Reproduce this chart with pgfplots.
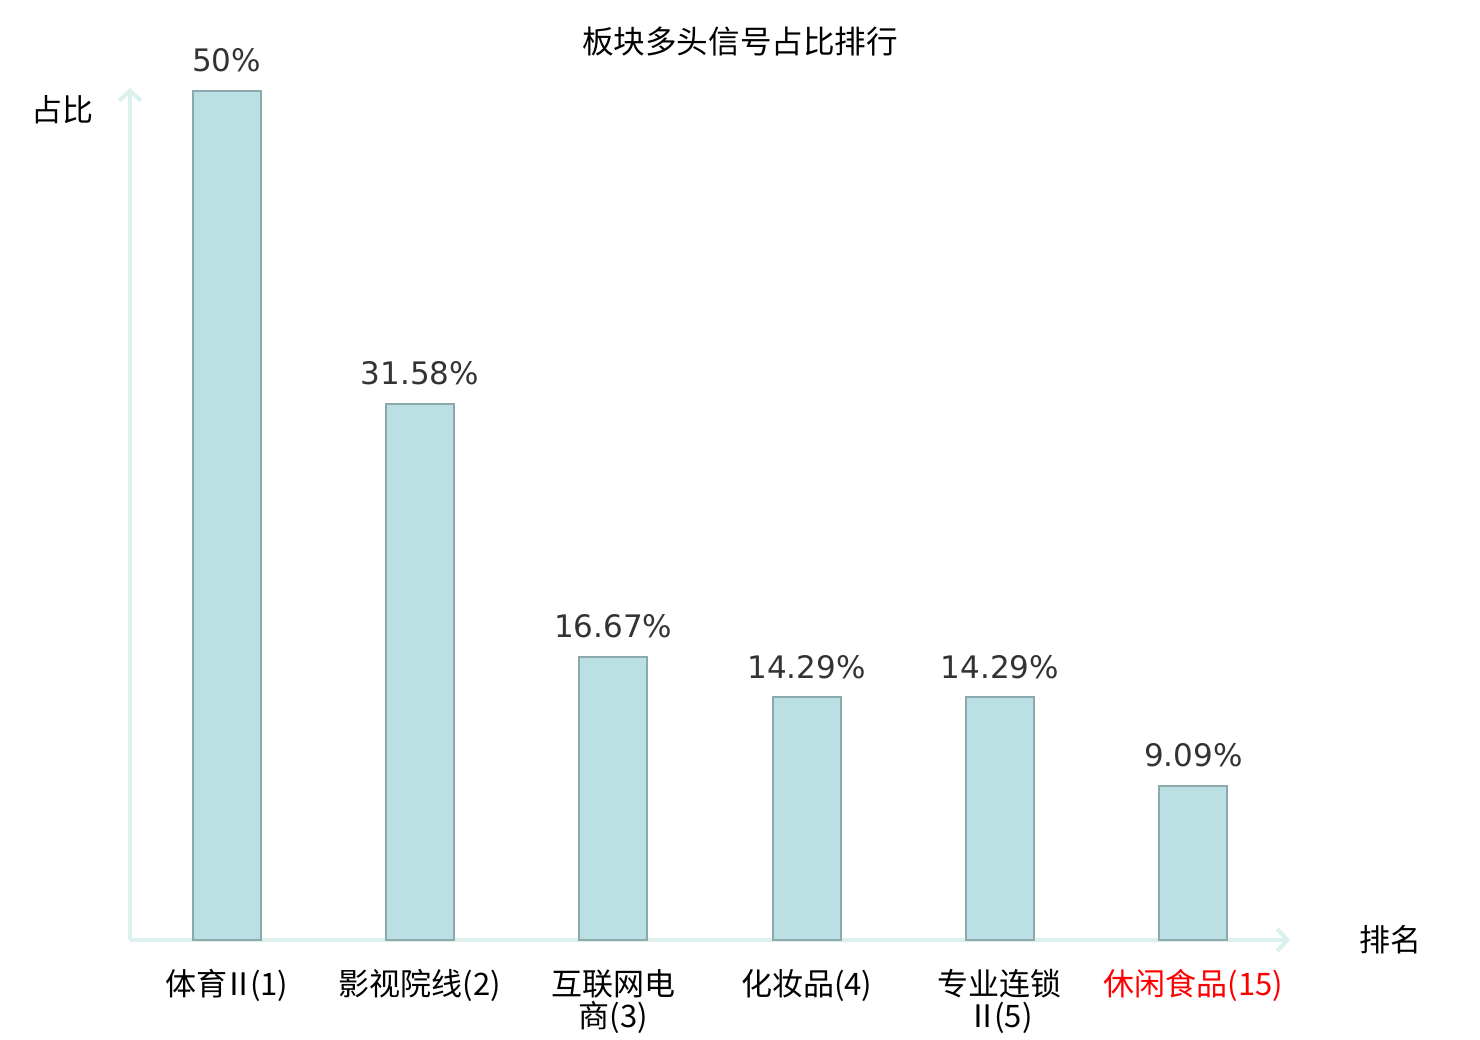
\documentclass[border=0pt]{standalone}
\usepackage{pgfplots}
\pgfplotsset{compat=1.18}
\usetikzlibrary{arrows.meta}
\usepackage{fontspec}
\setmainfont{Noto Sans CJK SC}
\newfontfamily\dejavu{DejaVu Sans}
\definecolor{barfill}{HTML}{BBE0E3}
\definecolor{baredge}{HTML}{8CA9AB}
\definecolor{axcol}{HTML}{DCF0EE}
\definecolor{valcol}{HTML}{333333}
\begin{document}
\begin{tikzpicture}
\begin{axis}[
  scale only axis, width=580pt, height=426pt,
  xmin=-0.5, xmax=5.5, ymin=0, ymax=50.2,
  axis lines=left,
  axis line style={draw=axcol, line width=2pt, -{Straight Barb[length=5pt,width=11pt]}},
  ytick=\empty,
  xtick={0,1,2,3,4,5}, major tick length=0pt,
  xticklabels={体育\hspace{-2pt}Ⅱ\hspace{-2pt}(1), 影视院线(2), 互联网电\\商(3), 化妆品(4), 专业连锁\\Ⅱ\hspace{-2pt}(5), \textcolor{red}{休闲食品(15)}},
  xticklabel style={font=\fontsize{15.5}{16}\selectfont, align=center, anchor=north, inner sep=0pt, yshift=-14.5pt},
  ybar, bar width=34pt,
  clip=false,
]
\addplot[fill=barfill, draw=baredge, line width=1pt,
  nodes near coords={\pgfmathprintnumber[assume math mode=true]{\pgfplotspointmeta}\%},
  every node near coord/.append style={font=\dejavu\fontsize{15.5}{18}\selectfont, text=valcol, anchor=south, inner sep=0pt, yshift=9pt}]
  coordinates {(0,50) (1,31.58) (2,16.67) (3,14.29) (4,14.29) (5,9.09)};
\end{axis}
\node[font=\fontsize{15.8}{18}\selectfont] at (305pt,449pt) {板块多头信号占比排行};
\node[font=\fontsize{15.5}{18}\selectfont] at (-33.5pt,415pt) {占比};
\node[font=\fontsize{15.5}{18}\selectfont] at (630pt,0pt) {排名};
\pgfresetboundingbox
\path[use as bounding box] (-65pt,-50pt) rectangle (675pt,470pt);
\end{tikzpicture}
\end{document}
